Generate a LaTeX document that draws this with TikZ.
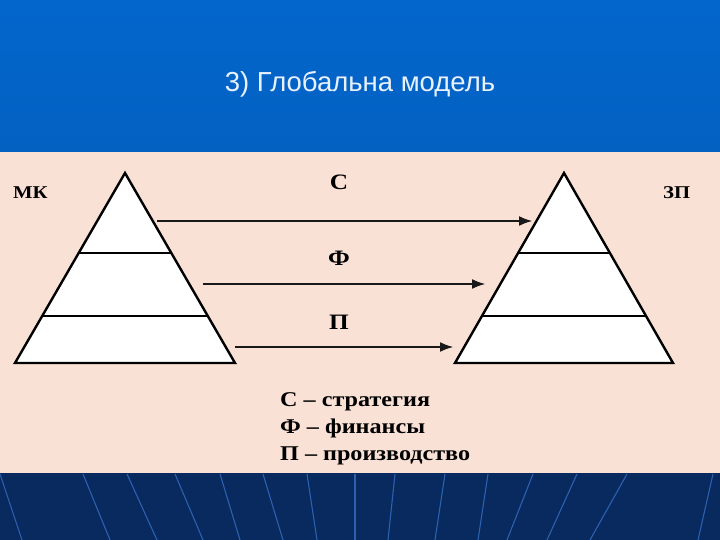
\documentclass[tikz,border=0pt]{standalone}
\usepackage{fontspec}
\setmainfont{Liberation Serif}
\newfontfamily\titlefont{Liberation Sans}
\newfontfamily\widefont[FakeStretch=1.15]{Liberation Serif}
\usetikzlibrary{arrows.meta}
\definecolor{headblue}{RGB}{3,102,204}
\definecolor{panelbeige}{RGB}{249,225,213}
\definecolor{footnavy}{RGB}{8,42,94}
\definecolor{raysblue}{RGB}{44,96,176}
\definecolor{titlewhite}{RGB}{232,242,255}
\tikzset{
  level/.style={fill=white, draw=black, line width=2.4pt, line join=miter},
  band/.style={draw=black, line width=2.1pt},
  flow/.style={draw=black!90, line width=2.8pt, -{Latex[length=14pt,width=10pt]}},
  letter/.style={font=\widefont\bfseries\fontsize{22}{24}\selectfont, inner sep=0pt},
  side/.style={font=\widefont\bfseries\fontsize{18}{20}\selectfont, inner sep=0pt},
}
\begin{document}
\begin{tikzpicture}[x=1pt, y=-1pt]
  \useasboundingbox (0,0) rectangle (720,540);
  \shade [top color=headblue, bottom color=headblue!95!black] (0,0) rectangle (720,152);
  \fill [panelbeige] (0,152) rectangle (720,473);
  \fill [footnavy] (0,473) rectangle (720,540);
  \foreach \a/\b in {0/22, 83/110, 127/157, 175/203, 220/240, 263/283, 307/317, 355/355,
                     395/388, 445/435, 488/478, 533/507, 577/547, 627/590, 713/698}
    \draw [raysblue, line width=1.1pt] (\a,474) -- (\b,540);
  \node (title) [font=\titlefont\fontsize{27.5}{30}\selectfont, text=titlewhite] at (360,84) {3) Глобальна модель};
  % left pyramid
  \draw [level] (125,173) -- (15,363) -- (235,363) -- cycle;
  \draw [band] (78.7,253) -- (171.3,253);
  \draw [band] (42.2,316) -- (207.8,316);
  % right pyramid
  \draw [level] (564,173) -- (455,363) -- (673,363) -- cycle;
  \draw [band] (518.1,253) -- (609.9,253);
  \draw [band] (482,316) -- (646,316);
  \coordinate (mkS) at (157,221);
  \coordinate (zpS) at (533,221);
  \coordinate (mkF) at (203,284);
  \coordinate (zpF) at (486,284);
  \coordinate (mkP) at (235,347);
  \coordinate (zpP) at (454,347);
  \draw [flow] (mkS) -- (zpS);
  \draw [flow] (mkF) -- (zpF);
  \draw [flow] (mkP) -- (zpP);
  \node (lblS) [letter] at (339,182) {С};
  \node (lblF) [letter] at (339,258) {Ф};
  \node (lblP) [letter] at (339,322) {П};
  \node (mk) [side, anchor=west] at (13,193) {МК};
  \node (zp) [side, anchor=west] at (663,193) {ЗП};
  \node (legend) [anchor=north west, align=left, inner sep=0pt,
    font=\widefont\bfseries\fontsize{21}{27}\selectfont] at (280,392)
    {С – стратегия\\Ф – финансы\\П – производство};
\end{tikzpicture}
\end{document}
